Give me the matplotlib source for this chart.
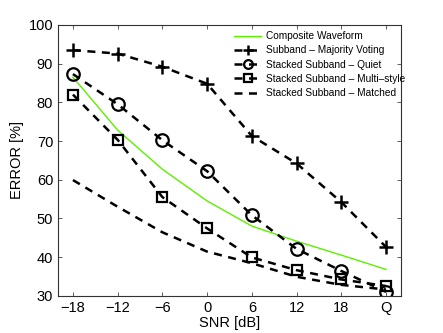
import matplotlib
matplotlib.use("Agg")
import matplotlib.pyplot as plt
import numpy as np

plt.rcParams['font.family'] = ['Liberation Sans', 'DejaVu Sans']

snr_labels = ['\u221218', '\u221212', '\u22126', '0', '6', '12', '18', 'Q']
composite = [86.5, 72.8, 62.7, 54.5, 48.0, 44.1, 40.5, 36.8]
majority = [93.5, 92.6, 89.2, 84.8, 71.3, 64.2, 54.2, 42.6]
quiet = [87.3, 79.5, 70.2, 62.2, 50.8, 42.1, 36.4, 31.0]
multistyle = [82.0, 70.3, 55.5, 47.4, 39.9, 36.6, 34.2, 32.5]
matched = [59.9, 53.0, 46.4, 41.4, 38.4, 34.9, 32.8, 31.6]

x = np.arange(len(snr_labels))

fig = plt.figure(figsize=(4.43, 3.33), dpi=100)
ax = fig.add_axes([0.131, 0.112, 0.774, 0.813])

dash = (0, (3.2, 2.6))
ax.plot(x, composite, color='#5cf000', lw=1.0, label='Composite Waveform')
ax.plot(x, majority, color='black', lw=1.8, ls=dash, marker='+', ms=10, mew=1.8,
        label='Subband \u2013 Majority Voting')
ax.plot(x, quiet, color='black', lw=1.8, ls=dash, marker='o', ms=9, mew=1.6,
        mfc='none', label='Stacked Subband \u2013 Quiet')
ax.plot(x, multistyle, color='black', lw=1.8, ls=dash, marker='s', ms=7.5, mew=1.6,
        mfc='none', label='Stacked Subband \u2013 Multi\u2013style')
ax.plot(x, matched, color='black', lw=1.8, ls=dash, label='Stacked Subband \u2013 Matched')

ax.set_xlim(-1/3, 7 + 1/3)
ax.set_ylim(30, 100)
ax.set_xticks(x)
ax.set_xticklabels(snr_labels)
ax.set_yticks(np.arange(30, 101, 10))
ax.tick_params(direction='in', top=True, right=True, labelsize=10.5, length=3,
               width=0.6, color='#444444')
for s in ax.spines.values():
    s.set_linewidth(0.8)
    s.set_color('#333333')
ax.set_xlabel('SNR [dB]', fontsize=10.5, labelpad=1)
ax.set_ylabel('ERROR [%]', fontsize=10.5, labelpad=3)

leg = ax.legend(loc='upper right', fontsize=7.3, frameon=False, handlelength=2.6,
                labelspacing=0.42, borderaxespad=0.2, handletextpad=0.5,
                markerscale=0.7, bbox_to_anchor=(1.03, 1.0))

fig.savefig('out.png', dpi=100)
